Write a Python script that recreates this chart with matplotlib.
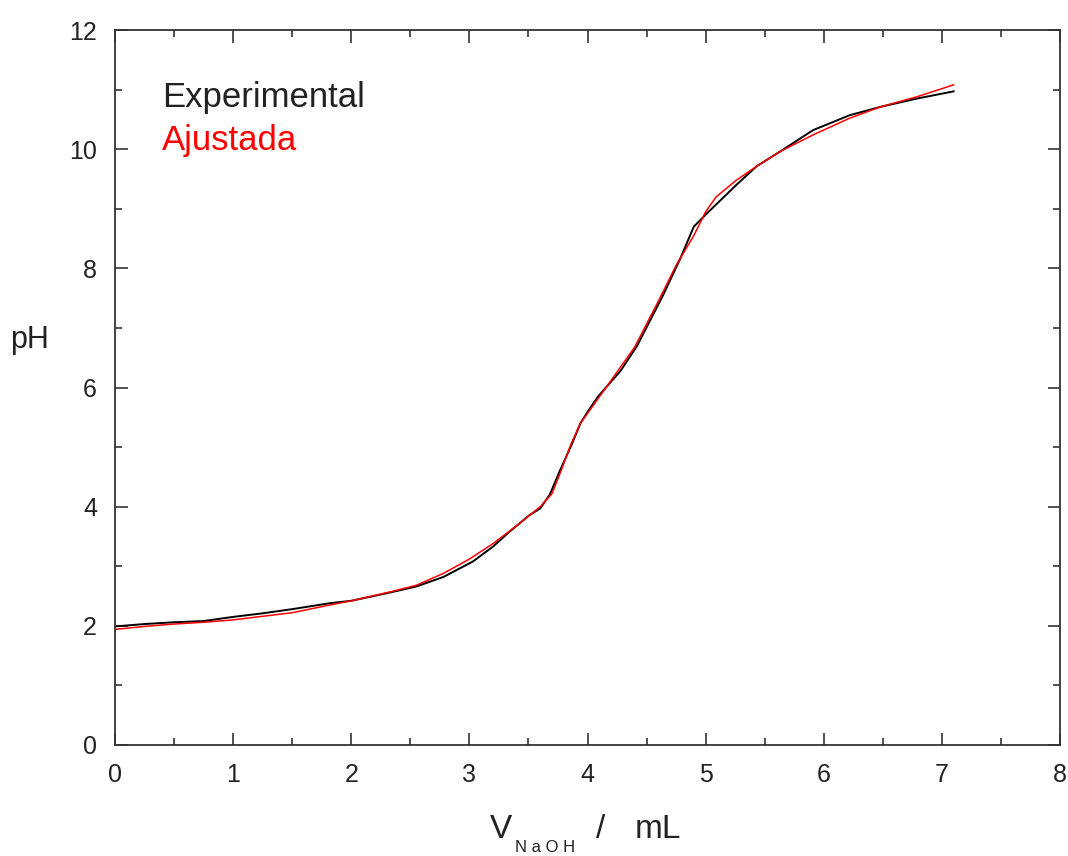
import matplotlib
matplotlib.use("Agg")
import matplotlib.pyplot as plt
from matplotlib.ticker import MultipleLocator

# Curva experimental (V NaOH en mL, pH)
v_exp = [0.0, 0.25, 0.5, 0.75, 1.0, 1.25, 1.5, 1.82, 2.0, 2.33, 2.55, 2.78, 3.03,
         3.20, 3.34, 3.51, 3.60, 3.68, 3.77, 3.87, 3.94, 4.01, 4.09, 4.28, 4.42,
         4.64, 4.78, 4.90, 5.01, 5.26, 5.43, 5.63, 5.91, 6.22, 6.48, 6.79, 7.10]
ph_exp = [1.99, 2.03, 2.06, 2.08, 2.15, 2.21, 2.28, 2.38, 2.42, 2.56, 2.66, 2.82, 3.08,
          3.33, 3.58, 3.86, 3.97, 4.20, 4.62, 5.06, 5.40, 5.62, 5.85, 6.28, 6.70,
          7.55, 8.14, 8.70, 8.92, 9.40, 9.71, 9.96, 10.32, 10.57, 10.71, 10.85, 10.97]

# Curva ajustada
v_fit = [0.0, 0.25, 0.5, 0.75, 1.0, 1.5, 1.82, 2.0, 2.33, 2.55, 2.78, 3.0, 3.2,
         3.4, 3.6, 3.7, 3.78, 3.86, 3.94, 4.02, 4.2, 4.4, 4.6, 4.75, 4.9, 5.0,
         5.09, 5.26, 5.43, 5.63, 5.91, 6.22, 6.48, 6.79, 7.10]
ph_fit = [1.94, 1.99, 2.03, 2.06, 2.10, 2.22, 2.35, 2.42, 2.57, 2.68, 2.88, 3.12, 3.38,
          3.68, 4.00, 4.22, 4.62, 5.05, 5.40, 5.62, 6.12, 6.68, 7.45, 8.05, 8.55, 8.95,
          9.20, 9.48, 9.71, 9.96, 10.24, 10.52, 10.71, 10.88, 11.08]

plt.rcParams['font.family'] = ['Liberation Sans', 'DejaVu Sans']

fig = plt.figure(figsize=(10.68, 8.56), dpi=100)
ax = fig.add_axes([115 / 1068, 111 / 856, 945 / 1068, 715 / 856])

ax.plot(v_exp, ph_exp, color="black", lw=1.4)
ax.plot(v_fit, ph_fit, color="red", lw=1.1)

ax.set_xlim(0, 8)
ax.set_ylim(0, 12)
ax.xaxis.set_major_locator(MultipleLocator(1))
ax.xaxis.set_minor_locator(MultipleLocator(0.5))
ax.yaxis.set_major_locator(MultipleLocator(2))
ax.yaxis.set_minor_locator(MultipleLocator(1))
ax.tick_params(which="both", direction="in", top=True, right=True,
               color="#333333", width=1.2)
ax.tick_params(which="major", length=9)
ax.tick_params(which="minor", length=5)
ax.tick_params(axis="x", which="major", labelsize=18, pad=13, labelcolor="#222222")
ax.tick_params(axis="y", which="major", labelsize=18, pad=13, labelcolor="#222222")
for s in ax.spines.values():
    s.set_color("#333333")
    s.set_linewidth(1.3)

# Leyenda como texto
ax.text(0.05, 0.905, "Experimental", transform=ax.transAxes, fontsize=25,
        color="#222222", va="center", ha="left")
ax.text(0.05, 0.845, "Ajustada", transform=ax.transAxes, fontsize=25,
        color="red", va="center", ha="left")

# Etiquetas de los ejes
fig.text(10 / 1068, 1 - 340 / 856, "pH", fontsize=22, color="#222222",
         va="center", ha="left")
fig.text(490 / 1068, 1 - 829 / 856, "V", fontsize=24, color="#222222",
         va="center", ha="left")
fig.text(515 / 1068, 1 - 848 / 856, "N a O H", fontsize=12, color="#222222",
         va="center", ha="left")
fig.text(596 / 1068, 1 - 829 / 856, "/", fontsize=24, color="#222222",
         va="center", ha="left")
fig.text(635 / 1068, 1 - 829 / 856, "mL", fontsize=24, color="#222222",
         va="center", ha="left")

fig.savefig("out.png", dpi=100)
